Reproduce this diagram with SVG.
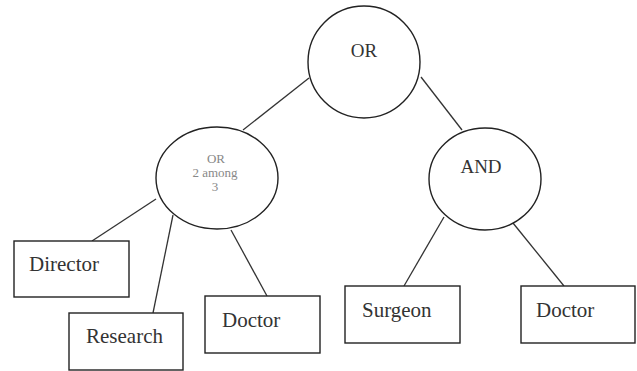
<svg xmlns="http://www.w3.org/2000/svg" width="637" height="371" viewBox="0 0 637 371">
<style>
.shape{fill:#fff;stroke:#222;stroke-width:1.4}
.edge{stroke:#333;stroke-width:1.3;fill:none}
.lbl{font-family:"Liberation Serif","Times New Roman",serif;fill:#333;font-size:21px}
.big{font-family:"Liberation Serif","Times New Roman",serif;fill:#333;font-size:19px;text-anchor:middle}
.small{font-family:"Liberation Serif","Times New Roman",serif;fill:#888;font-size:13px;text-anchor:middle}
</style>
<rect width="637" height="371" fill="#fff"/>
<g id="connectors">
<line class="edge" x1="309" y1="78" x2="243" y2="130"/>
<line class="edge" x1="421" y1="77" x2="462" y2="130"/>
<line class="edge" x1="156" y1="199" x2="92" y2="241"/>
<line class="edge" x1="173" y1="215" x2="153" y2="313"/>
<line class="edge" x1="231" y1="230" x2="267" y2="296"/>
<line class="edge" x1="444" y1="217" x2="404" y2="286"/>
<line class="edge" x1="513" y1="223" x2="564" y2="286"/>
</g>
<g id="or-root">
<ellipse class="shape" cx="364" cy="62" rx="56" ry="56"/>
<text class="big" x="364" y="57">OR</text>
</g>
<g id="or-2among3">
<ellipse class="shape" cx="217" cy="178" rx="61" ry="51"/>
<text class="small" x="216" y="163">OR</text>
<text class="small" x="215" y="177">2 among</text>
<text class="small" x="215" y="191">3</text>
</g>
<g id="and">
<ellipse class="shape" cx="485" cy="179" rx="56" ry="51"/>
<text class="big" x="481" y="173">AND</text>
</g>
<g id="director">
<rect class="shape" x="14" y="241" width="115" height="56"/>
<text class="lbl" x="29" y="271">Director</text>
</g>
<g id="research">
<rect class="shape" x="69" y="313" width="114" height="57"/>
<text class="lbl" x="86" y="343">Research</text>
</g>
<g id="doctor-left">
<rect class="shape" x="205" y="296" width="115" height="57"/>
<text class="lbl" x="222" y="327">Doctor</text>
</g>
<g id="surgeon">
<rect class="shape" x="345" y="286" width="115" height="57"/>
<text class="lbl" x="362" y="317">Surgeon</text>
</g>
<g id="doctor-right">
<rect class="shape" x="521" y="286" width="114" height="57"/>
<text class="lbl" x="536" y="317">Doctor</text>
</g>
</svg>
